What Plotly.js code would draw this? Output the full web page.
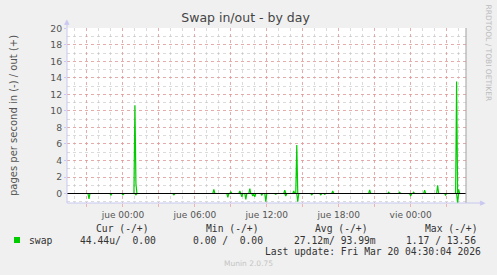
<!DOCTYPE html>
<html>
<head>
<meta charset="utf-8">
<script src="https://cdn.plot.ly/plotly-3.0.1.min.js"></script>
<style>html,body{margin:0;padding:0;background:#F0F0F0;}</style>
</head>
<body>
<div id="chart" style="width:497px;height:275px;"></div>
<script>
// ---- data ----
const outTimes = [
 '2026-03-18 19:20','2026-03-19 00:55','2026-03-19 01:00','2026-03-19 01:05','2026-03-19 01:10',
 '2026-03-19 07:30','2026-03-19 07:35','2026-03-19 07:40',
 '2026-03-19 08:55','2026-03-19 09:00','2026-03-19 09:05',
 '2026-03-19 09:40','2026-03-19 09:45','2026-03-19 09:50',
 '2026-03-19 10:30','2026-03-19 10:35','2026-03-19 10:40',
 '2026-03-19 13:25','2026-03-19 13:30','2026-03-19 13:35',
 '2026-03-19 14:10','2026-03-19 14:15','2026-03-19 14:20','2026-03-19 14:25','2026-03-19 14:30','2026-03-19 14:35',
 '2026-03-19 17:25','2026-03-19 17:30','2026-03-19 17:35',
 '2026-03-19 20:30','2026-03-19 20:35','2026-03-19 20:40',
 '2026-03-19 22:05','2026-03-19 22:10','2026-03-19 22:15',
 '2026-03-19 23:00','2026-03-19 23:05','2026-03-19 23:10',
 '2026-03-20 00:10','2026-03-20 00:15','2026-03-20 00:20',
 '2026-03-20 01:05','2026-03-20 01:10','2026-03-20 01:15',
 '2026-03-20 02:10','2026-03-20 02:15','2026-03-20 02:20',
 '2026-03-20 03:45','2026-03-20 03:50','2026-03-20 03:55','2026-03-20 04:00','2026-03-20 04:05','2026-03-20 04:30'
];
const outValues = [
 0,0,10.7,1.2,0,
 0,0.5,0,
 0,0.2,0,
 0,0.3,0,
 0,0.6,0,
 0,0.4,0,
 0,0.3,0,0,5.86,0,
 0,0.3,0,
 0,0.45,0,
 0,0.15,0,
 0,0.15,0,
 0,0.15,0,
 0,0.4,0,
 0,1.0,0,
 0,13.56,0,0.5,0,0
];
const inTimes = [
 '2026-03-18 19:20','2026-03-18 21:05','2026-03-18 21:10','2026-03-18 21:15',
 '2026-03-18 22:55','2026-03-18 23:00','2026-03-18 23:05',
 '2026-03-18 23:55','2026-03-19 00:00','2026-03-19 00:05',
 '2026-03-19 01:00','2026-03-19 01:05','2026-03-19 01:10',
 '2026-03-19 04:10','2026-03-19 04:15','2026-03-19 04:20',
 '2026-03-19 08:40','2026-03-19 08:45','2026-03-19 08:50',
 '2026-03-19 09:50','2026-03-19 09:55','2026-03-19 10:00',
 '2026-03-19 10:10','2026-03-19 10:15','2026-03-19 10:20',
 '2026-03-19 10:45','2026-03-19 10:50','2026-03-19 10:55','2026-03-19 11:00','2026-03-19 11:05',
 '2026-03-19 11:30','2026-03-19 11:35','2026-03-19 11:40',
 '2026-03-19 11:50','2026-03-19 11:55','2026-03-19 12:00',
 '2026-03-19 12:40','2026-03-19 12:45','2026-03-19 12:50',
 '2026-03-19 13:30','2026-03-19 13:35','2026-03-19 13:40',
 '2026-03-19 14:30','2026-03-19 14:35','2026-03-19 14:40',
 '2026-03-19 15:40','2026-03-19 15:45','2026-03-19 15:50',
 '2026-03-19 16:25','2026-03-19 16:30','2026-03-19 16:35',
 '2026-03-19 16:45','2026-03-19 16:50','2026-03-19 16:55',
 '2026-03-19 23:55','2026-03-20 00:00','2026-03-20 00:05',
 '2026-03-20 02:50','2026-03-20 02:55','2026-03-20 03:00',
 '2026-03-20 03:50','2026-03-20 03:55','2026-03-20 04:00','2026-03-20 04:30'
];
const inValues = [
 0,0,-0.66,0,
 0,-0.2,0,
 0,-0.15,0,
 0,-0.15,0,
 0,-0.15,0,
 0,-0.45,0,
 0,-0.4,0,
 0,-0.7,0,
 0,-0.3,-0.1,-0.4,0,
 0,-0.2,0,
 0,-1.0,0,
 0,-0.1,0,
 0,-0.3,0,
 0,-1.0,0,
 0,-0.15,0,
 0,-0.15,0,
 0,-0.1,0,
 0,-0.3,0,
 0,-0.2,0,
 0,-1.17,0,0
];
const xRange = ['2026-03-18 19:20','2026-03-20 04:37'];
const xTickVals = ['2026-03-18 21:00','2026-03-19 00:00','2026-03-19 03:00','2026-03-19 06:00','2026-03-19 09:00',
 '2026-03-19 12:00','2026-03-19 15:00','2026-03-19 18:00','2026-03-19 21:00','2026-03-20 00:00','2026-03-20 03:00'];
const xTickText = ['','jue 00:00','','jue 06:00','','jue 12:00','','jue 18:00','','vie 00:00',''];
const yTickVals = [0,2,4,6,8,10,12,14,16,18,20];
const legendName = 'swap';
const legendHeaders = ['Cur (-/+)','Min (-/+)','Avg (-/+)','Max (-/+)'];
const legendValues = ['44.44u/  0.00','0.00 /  0.00','27.12m/ 93.99m','1.17 / 13.56'];
const lastUpdate = 'Last update: Fri Mar 20 04:30:04 2026';

// ---- layout ----
const W = 497, H = 275, ML = 67, MR = 31, MT = 28, MB = 72;
const PW = W - ML - MR, PH = H - MT - MB;
const px = x => (x - ML) / PW;          // pixel -> paper x
const py = y => (H - MB - y) / PH;      // pixel -> paper y
const green = '#00CC00';
const mono = 'DejaVu Sans Mono';
const sans = 'DejaVu Sans';
const majorGrid = 'rgba(235,140,140,0.6)';
const minorGrid = 'rgba(190,190,190,0.55)';
const axisCol = '#C8C8F0';

const traces = [
 {x: inTimes, y: inValues, type:'scatter', mode:'lines', line:{color:green, width:1.2}, hoverinfo:'skip'},
 {x: outTimes, y: outValues, type:'scatter', mode:'lines', line:{color:green, width:1.2}, hoverinfo:'skip'}
];

const ann = [];
const mtxt = (text, xPix, yPix, opts) => Object.assign({
  text, xref:'paper', yref:'paper', x:px(xPix), y:py(yPix), xanchor:'left', yanchor:'middle',
  showarrow:false, font:{family:mono, size:9.7, color:'#333'}
}, opts||{});
ann.push(mtxt(legendName, 26.5, 240));
const hdrX = [94, 204, 312.7, 422.7];
const valX = [77.7, 190.7, 291.7, 404.3];
legendHeaders.forEach((h,i)=>ann.push(mtxt(h.replace(/ /g,'\u00a0'), hdrX[i], 228)));
legendValues.forEach((v,i)=>ann.push(mtxt(v.replace(/ /g,'\u00a0'), valX[i], 240)));
ann.push(mtxt(lastUpdate.replace(/ /g,'\u00a0'), 483, 251.5, {xanchor:'right'}));
ann.push({text:'Munin 2.0.75', xref:'paper', yref:'paper', x:px(248), y:py(263.5), xanchor:'center', yanchor:'middle',
  showarrow:false, font:{family:sans, size:7.5, color:'#C4C4C4'}});
ann.push({text:'RRDTOOL / TOBI OETIKER', xref:'paper', yref:'paper', x:px(488.5), y:py(53), xanchor:'center', yanchor:'middle',
  textangle:90, showarrow:false, font:{family:sans, size:7.5, color:'#BBBBBB'}});
// axis arrow heads
ann.push({text:'\u25B2', xref:'paper', yref:'paper', x:px(66.5), y:py(22), xanchor:'center', yanchor:'middle',
  showarrow:false, font:{family:sans, size:7, color:axisCol}});
ann.push({text:'\u25B6', xref:'paper', yref:'paper', x:px(483), y:py(203), xanchor:'center', yanchor:'middle',
  showarrow:false, font:{family:sans, size:7, color:axisCol}});

const shapes = [
 {type:'line', xref:'paper', yref:'y', x0:0, x1:1, y0:0, y1:0, layer:'above', line:{color:'#000', width:1.2}},
 {type:'line', xref:'paper', yref:'paper', x0:1, x1:1, y0:0, y1:1, layer:'above', line:{color:'#A0A0A0', width:1}},
 {type:'line', xref:'paper', yref:'paper', x0:0, x1:0, y0:0, y1:py(22), layer:'above', line:{color:axisCol, width:1}},
 {type:'line', xref:'paper', yref:'paper', x0:0, x1:px(481), y0:0, y1:0, layer:'above', line:{color:axisCol, width:1}},
 {type:'rect', xref:'paper', yref:'paper', x0:px(14), x1:px(20), y0:py(243), y1:py(237), line:{width:0}, fillcolor:green}
];

const layout = {
  width:W, height:H, margin:{l:ML, r:MR, t:MT, b:MB, pad:0},
  paper_bgcolor:'#F0F0F0', plot_bgcolor:'#FFFFFF',
  showlegend:false,
  title:{text:'Swap in/out - by day', x:0.494, xanchor:'center', y:1-18/H, yanchor:'middle',
    font:{family:sans, size:12.5, color:'#444'}},
  font:{family:sans, color:'#555'},
  xaxis:{type:'date', range:xRange, tickmode:'array', tickvals:xTickVals, ticktext:xTickText,
    showgrid:true, gridcolor:majorGrid, griddash:'dot', gridwidth:1,
    ticks:'outside', ticklen:3, tickcolor:majorGrid, tickfont:{family:sans, size:9, color:'#555'},
    showline:false, zeroline:false, fixedrange:true,
    minor:{tickmode:'linear', tick0:'2026-03-19 00:00', dtick:3600000, showgrid:true,
      gridcolor:minorGrid, griddash:'dot', gridwidth:1, ticks:''}},
  yaxis:{range:[-1.15,20.05], tickmode:'array', tickvals:yTickVals,
    showgrid:true, gridcolor:majorGrid, griddash:'dot', gridwidth:1,
    ticks:'outside', ticklen:2, tickcolor:axisCol, tickfont:{family:sans, size:9.3, color:'#555'},
    showline:false, zeroline:false, fixedrange:true,
    title:{text:'pages per second in (-) / out (+)', font:{family:sans, size:10, color:'#555'}, standoff:30},
    minor:{tickmode:'linear', tick0:0, dtick:1, showgrid:true, gridcolor:minorGrid, griddash:'dot', gridwidth:1, ticks:''}},
  annotations:ann, shapes:shapes
};
Plotly.newPlot('chart', traces, layout, {staticPlot:true, displayModeBar:false});
</script>
</body>
</html>
